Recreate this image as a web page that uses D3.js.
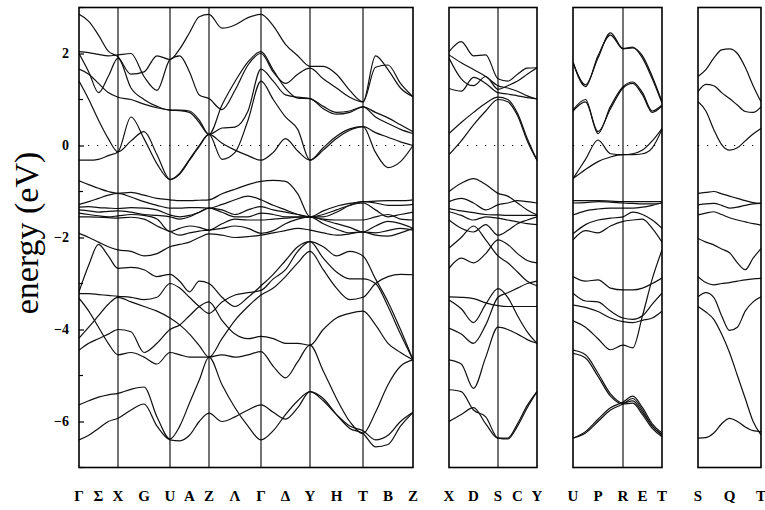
<!DOCTYPE html>
<html><head><meta charset="utf-8">
<script src="https://cdn.jsdelivr.net/npm/d3@7"></script>
<style>body{margin:0;background:#fff}</style>
</head><body>
<script>
// ---------- data ----------
const yTicks = [2, 0, -2, -4, -6];
const minorTicks = [3, 1, -1, -3, -5, -7];

// Panel 1 : Γ Σ X G U A Z Λ Γ Δ Y H T B Z
const p1Nodes = [0, 0.39, 0.91, 1.30, 1.82, 2.31, 2.84, 3.34];
const p1Labels = ["Γ","Σ","X","G","U","A","Z","Λ","Γ","Δ","Y","H","T","B","Z"];
const p1Bands = [
 [2.85,2.70,2.40,2.05,1.93, 1.55,1.60,1.95,1.87, 2.10,2.45,2.80,2.85, 2.55,2.62,2.78,2.85, 2.60,2.20,1.95,1.72, 1.72,1.55,1.20,0.95, 1.95,1.65,1.25,1.06],
 [2.04,2.02,1.98,1.95,1.97, 2.00,1.50,1.20,1.87, 1.95,1.60,1.10,1.02, 0.78,1.20,1.75,2.00, 1.60,1.35,1.55,1.68, 1.45,1.25,1.05,0.95, 1.70,1.75,1.35,1.06],
 [2.00,1.60,1.15,1.50,1.90, 1.25,1.00,0.85,0.77, 0.77,0.75,0.55,0.24, 0.88,1.39,1.82,2.04, 1.64,1.24,1.03,1.02, 0.80,0.68,0.72,0.84, 0.72,0.60,0.45,0.30],
 [1.66,1.55,1.35,1.15,1.05, 1.00,0.90,0.82,0.77, 0.76,0.72,0.50,0.24, 0.38,0.40,0.75,1.66, 1.40,1.10,1.05,1.02, 0.85,0.72,0.75,0.84, 0.62,0.48,0.35,0.26],
 [1.40,1.00,0.55,0.15,-0.14, 0.10,0.30,-0.20,-0.74, -0.62,-0.32,-0.02,0.24, -0.30,-0.15,0.55,1.40, 1.00,0.62,0.35,-0.32, -0.05,0.20,0.36,0.41, 0.28,0.18,0.08,0.00],
 [-0.32,-0.32,-0.30,-0.22,-0.14, 0.62,0.15,-0.40,-0.74, -0.60,-0.30,0.00,0.24, 0.05,-0.10,-0.22,-0.32, -0.15,0.15,-0.12,-0.32, -0.10,0.15,0.33,0.41, -0.15,-0.48,-0.35,0.00],
 [-0.77,-0.85,-0.93,-1.00,-1.04, -1.02,-1.08,-1.15,-1.18, -1.20,-1.20,-1.19,-1.18, -1.05,-0.95,-0.85,-0.78, -0.76,-0.78,-1.05,-1.55, -1.42,-1.32,-1.26,-1.22, -1.21,-1.20,-1.20,-1.18],
 [-1.28,-1.22,-1.15,-1.08,-1.04, -1.12,-1.22,-1.30,-1.36, -1.36,-1.35,-1.35,-1.36, -1.28,-1.18,-1.10,-1.18, -1.30,-1.40,-1.50,-1.55, -1.55,-1.45,-1.30,-1.22, -1.25,-1.30,-1.30,-1.28],
 [-1.34,-1.33,-1.35,-1.36,-1.37, -1.35,-1.36,-1.40,-1.51, -1.55,-1.52,-1.45,-1.36, -1.40,-1.50,-1.40,-1.33, -1.40,-1.45,-1.50,-1.55, -1.50,-1.40,-1.30,-1.25, -1.40,-1.55,-1.50,-1.45],
 [-1.40,-1.42,-1.45,-1.43,-1.42, -1.45,-1.50,-1.52,-1.55, -1.60,-1.55,-1.45,-1.36, -1.45,-1.55,-1.55,-1.47, -1.50,-1.55,-1.55,-1.55, -1.60,-1.62,-1.62,-1.62, -1.55,-1.50,-1.60,-1.62],
 [-1.47,-1.50,-1.53,-1.55,-1.53, -1.50,-1.52,-1.60,-1.87, -1.80,-1.75,-1.78,-1.84, -1.70,-1.60,-1.62,-1.62, -1.60,-1.58,-1.56,-1.55, -1.62,-1.70,-1.78,-1.88, -1.75,-1.65,-1.70,-1.80],
 [-1.55,-1.55,-1.56,-1.57,-1.58, -1.56,-1.60,-1.75,-1.87, -1.95,-1.90,-1.86,-1.84, -1.80,-1.75,-1.80,-1.91, -1.85,-1.70,-1.60,-1.55, -1.70,-1.82,-1.90,-1.88, -1.95,-1.97,-1.90,-1.80],
 [-1.91,-2.00,-2.10,-2.20,-2.27, -2.30,-2.40,-2.35,-2.20, -2.15,-2.10,-2.00,-1.92, -1.95,-2.00,-1.98,-1.95, -1.90,-1.85,-1.80,-1.84, -1.90,-1.95,-1.92,-1.88, -1.90,-1.85,-1.80,-1.84],
 [-3.18,-2.60,-2.15,-2.40,-2.67, -2.65,-2.70,-2.85,-2.80, -2.95,-3.18,-2.95,-3.00, -3.30,-3.50,-3.30,-3.05, -2.80,-2.50,-2.20,-2.09, -2.20,-2.40,-2.30,-2.40, -2.90,-3.40,-4.00,-4.66],
 [-3.22,-3.22,-3.24,-3.26,-3.28, -3.30,-3.35,-3.30,-3.00, -3.10,-3.30,-3.50,-3.65, -3.40,-3.25,-3.20,-3.15, -2.90,-2.70,-2.30,-2.09, -2.45,-2.75,-2.90,-2.90, -3.00,-3.50,-4.10,-4.66],
 [-3.32,-3.60,-3.95,-4.30,-4.55, -4.50,-4.60,-4.75,-4.50, -4.55,-4.60,-4.60,-4.60, -4.55,-4.60,-4.55,-4.48, -4.80,-5.05,-4.70,-4.34, -4.90,-5.50,-6.00,-6.26, -5.80,-5.20,-4.80,-4.66],
 [-4.19,-3.95,-3.70,-3.45,-3.30, -3.40,-3.50,-3.60,-3.75, -3.90,-4.10,-4.35,-4.60, -4.20,-3.80,-3.50,-3.25, -3.10,-2.85,-2.55,-2.30, -2.70,-3.10,-3.35,-3.30, -3.00,-2.85,-2.80,-2.81],
 [-4.45,-4.30,-4.20,-4.10,-4.00, -4.05,-4.50,-4.30,-4.00, -3.90,-3.70,-3.50,-3.40, -3.80,-4.10,-4.20,-4.15, -4.20,-4.30,-4.30,-4.34, -4.00,-3.75,-3.65,-3.60, -3.90,-4.30,-4.50,-4.66],
 [-5.64,-5.55,-5.47,-5.42,-5.39, -5.30,-5.25,-5.90,-6.38, -6.10,-5.60,-5.10,-4.60, -5.20,-5.70,-6.10,-6.40, -6.20,-5.85,-5.55,-5.35, -5.55,-5.85,-6.10,-6.20, -6.40,-6.30,-6.00,-5.80],
 [-6.40,-6.30,-6.15,-6.00,-5.93, -5.75,-5.62,-6.10,-6.40, -6.42,-6.30,-6.00,-5.82, -6.00,-5.90,-5.75,-5.64, -5.80,-5.95,-5.70,-5.35, -5.50,-5.85,-6.15,-6.26, -6.55,-6.50,-6.10,-5.80]
];

// Panel 2 : X D S C Y
const p2Nodes = [0, 0.49, 0.88];
const p2Labels = ["X","D","S","C","Y"];
const p2Bands = [
 [2.04,2.26,1.95,1.97,1.45,1.40,1.55,1.68,1.69],
 [1.97,1.80,1.65,1.50,1.30,1.25,1.18,1.08,1.01],
 [1.90,1.45,1.30,1.50,1.22,1.30,1.40,1.55,1.69],
 [1.24,1.18,1.48,1.35,1.15,1.12,1.08,1.04,1.01],
 [0.26,0.50,0.72,0.92,1.05,1.00,0.70,0.15,-0.32],
 [-0.20,0.10,0.45,0.75,1.00,0.95,0.65,0.10,-0.32],
 [-1.00,-0.82,-0.72,-0.85,-1.04,-1.10,-1.25,-1.40,-1.51],
 [-1.22,-1.15,-1.25,-1.40,-1.29,-1.25,-1.20,-1.22,-1.25],
 [-1.37,-1.42,-1.46,-1.50,-1.51,-1.52,-1.52,-1.52,-1.52],
 [-1.44,-1.52,-1.62,-1.55,-1.58,-1.62,-1.66,-1.70,-1.72],
 [-1.62,-1.80,-1.88,-1.72,-1.95,-1.85,-1.70,-1.62,-1.55],
 [-2.23,-2.00,-1.75,-2.05,-2.40,-2.55,-2.75,-2.95,-3.05],
 [-2.67,-2.45,-2.55,-2.35,-2.05,-2.15,-2.35,-2.50,-2.55],
 [-3.29,-3.30,-3.33,-3.42,-3.48,-3.50,-3.50,-3.50,-3.50],
 [-3.36,-3.55,-3.85,-3.45,-3.11,-3.30,-3.70,-4.05,-4.30],
 [-3.97,-4.10,-4.30,-3.90,-3.30,-3.20,-3.10,-3.00,-2.95],
 [-4.66,-4.75,-5.28,-4.60,-3.95,-4.00,-4.10,-4.22,-4.30],
 [-5.31,-5.35,-5.75,-5.90,-6.36,-6.38,-6.10,-5.70,-5.35],
 [-6.00,-5.85,-5.70,-6.05,-6.36,-6.36,-6.05,-5.65,-5.35]
];

// Panel 3 : U P R E T
const p3Nodes = [0, 0.50, 0.89];
const p3Labels = ["U","P","R","E","T"];
const p3Bands = [
 [1.82,1.28,1.95,2.40,2.10,2.12,1.95,1.50,0.95],
 [1.80,1.32,1.90,2.45,2.11,2.14,1.90,1.45,0.92],
 [0.77,1.00,0.26,0.85,1.28,1.38,1.15,0.75,0.88],
 [0.75,0.95,0.30,0.80,1.25,1.35,1.10,0.72,0.86],
 [-0.72,-0.30,0.12,-0.18,-0.20,-0.18,-0.10,0.10,0.37],
 [-0.72,-0.52,-0.35,-0.25,-0.20,-0.20,-0.18,-0.05,0.35],
 [-1.20,-1.20,-1.20,-1.21,-1.22,-1.22,-1.22,-1.22,-1.22],
 [-1.25,-1.24,-1.22,-1.23,-1.25,-1.26,-1.27,-1.27,-1.25],
 [-1.51,-1.42,-1.38,-1.36,-1.36,-1.36,-1.34,-1.30,-1.25],
 [-1.92,-1.72,-1.62,-1.58,-1.55,-1.45,-1.50,-1.62,-1.80],
 [-2.05,-1.85,-1.90,-1.75,-1.65,-1.62,-1.60,-1.80,-2.10],
 [-2.85,-2.95,-2.92,-3.10,-3.14,-3.14,-3.10,-3.00,-2.88],
 [-3.21,-3.38,-3.40,-3.60,-3.75,-3.78,-3.70,-3.45,-3.21],
 [-3.47,-3.52,-3.61,-3.75,-3.83,-3.85,-3.80,-3.75,-3.60],
 [-3.81,-3.95,-4.20,-4.44,-4.34,-4.40,-3.70,-2.90,-2.27],
 [-4.45,-4.55,-4.95,-5.40,-5.60,-5.55,-5.80,-6.10,-6.30],
 [-4.52,-4.62,-5.02,-5.45,-5.62,-5.60,-5.85,-6.15,-6.33],
 [-6.36,-6.25,-6.00,-5.75,-5.62,-5.50,-5.75,-6.10,-6.28],
 [-6.36,-6.22,-5.95,-5.70,-5.58,-5.45,-5.70,-6.05,-6.25]
];

// Panel 4 : S Q T
const p4Nodes = [0, 0.63];
const p4Labels = ["S","Q","T"];
const p4Bands = [
 [1.50,1.65,1.90,2.08,2.10,2.00,1.70,1.30,0.95],
 [1.17,1.33,1.30,1.15,1.02,0.88,0.74,0.72,0.84],
 [0.95,0.75,0.35,0.02,-0.10,-0.05,0.10,0.25,0.37],
 [-1.04,-1.02,-1.00,-1.05,-1.10,-1.15,-1.20,-1.24,-1.26],
 [-1.29,-1.27,-1.26,-1.30,-1.36,-1.34,-1.30,-1.27,-1.26],
 [-1.51,-1.47,-1.44,-1.50,-1.57,-1.62,-1.66,-1.70,-1.73],
 [-2.02,-2.10,-2.16,-2.25,-2.33,-2.55,-2.70,-2.45,-2.24],
 [-2.85,-2.98,-3.03,-3.00,-2.98,-2.95,-2.92,-2.90,-2.89],
 [-3.29,-3.20,-3.30,-3.70,-4.02,-3.95,-3.60,-3.40,-3.29],
 [-3.50,-3.62,-3.78,-4.10,-4.50,-5.00,-5.50,-6.00,-6.29],
 [-6.36,-6.35,-6.25,-6.05,-5.93,-6.00,-6.12,-6.20,-6.22]
];

// ---------- drawing ----------
const W = 765, H = 510;
const svg = d3.select("body").append("svg").attr("width", W).attr("height", H)
  .style("font-family", "'Liberation Serif','DejaVu Serif',serif");

const y = d3.scaleLinear().domain([-7, 3]).range([467.5, 7.5]);

const panels = [
  {nodes: p1Nodes, labels: p1Labels, bands: p1Bands, x0: 79},
  {nodes: p2Nodes, labels: p2Labels, bands: p2Bands, x0: 449},
  {nodes: p3Nodes, labels: p3Labels, bands: p3Bands, x0: 573},
  {nodes: p4Nodes, labels: p4Labels, bands: p4Bands, x0: 698}
];

// k-sample positions: 4 sub-intervals per segment between high-symmetry points (8 for the single-segment panel)
function kGrid(nodes) {
  const sub = nodes.length === 2 ? 8 : 4;
  const g = [nodes[0]];
  for (let s = 0; s < nodes.length - 1; s++)
    for (let j = 1; j <= sub; j++) g.push(nodes[s] + (nodes[s+1] - nodes[s]) * j / sub);
  return g;
}

panels.forEach((p, pi) => {
  const kmax = p.nodes[p.nodes.length - 1];
  const x = d3.scaleLinear().domain([0, kmax]).range([p.x0, p.x0 + kmax * 100]);
  const g = svg.append("g");
  const clipId = "clip" + pi;
  svg.append("clipPath").attr("id", clipId).append("rect")
    .attr("x", x(0)).attr("y", y(3)).attr("width", x(kmax) - x(0)).attr("height", y(-7) - y(3));

  const ks = kGrid(p.nodes);
  const line = d3.line().x((d, i) => x(ks[i])).y(d => y(d)).curve(d3.curveMonotoneX);

  // zero line
  g.append("line").attr("x1", x(0)).attr("x2", x(kmax)).attr("y1", y(0)).attr("y2", y(0))
    .attr("stroke", "#000").attr("stroke-width", 1.1).attr("stroke-dasharray", "1.2,7.8");

  // bands
  g.append("g").attr("clip-path", `url(#${clipId})`).selectAll("path").data(p.bands).join("path")
    .attr("d", line).attr("fill", "none").attr("stroke", "#111").attr("stroke-width", 1.2);

  // inner high-symmetry lines
  g.selectAll("line.sym").data(p.nodes.slice(1, -1)).join("line").attr("class", "sym")
    .attr("x1", d => x(d)).attr("x2", d => x(d)).attr("y1", y(3)).attr("y2", y(-7))
    .attr("stroke", "#000").attr("stroke-width", 1.1);

  // frame
  g.append("rect").attr("x", x(0)).attr("y", y(3)).attr("width", x(kmax) - x(0)).attr("height", y(-7) - y(3))
    .attr("fill", "none").attr("stroke", "#000").attr("stroke-width", 1.6);

  // labels: node labels at points, segment labels at midpoints
  const labPos = [];
  p.nodes.forEach((n, i) => {
    labPos.push(n);
    if (i < p.nodes.length - 1) labPos.push((n + p.nodes[i+1]) / 2);
  });
  g.selectAll("text.k").data(p.labels).join("text").attr("class", "k")
    .attr("x", (d, i) => x(labPos[i])).attr("y", 501)
    .attr("text-anchor", "middle").attr("font-size", 15).attr("font-weight", "bold")
    .text(d => d);

  if (pi === 0) {
    const ax = d3.axisLeft(y).tickValues(yTicks).tickSize(-5).tickPadding(10);
    const ag = g.append("g").attr("transform", `translate(${x(0)},0)`).call(ax);
    ag.select(".domain").remove();
    ag.selectAll("text").attr("font-size", 14).attr("font-weight", "bold")
      .attr("font-family", "'Liberation Serif',serif").attr("fill", "#000");
    ag.selectAll("line").attr("stroke-width", 1.2);
    g.selectAll("line.minor").data(minorTicks).join("line").attr("class", "minor")
      .attr("x1", x(0)).attr("x2", x(0) + 4).attr("y1", d => y(d)).attr("y2", d => y(d))
      .attr("stroke", "#000").attr("stroke-width", 1.2);
  }
});

svg.append("text")
  .attr("transform", "translate(38,233) rotate(-90)")
  .attr("text-anchor", "middle").attr("font-size", 34)
  .text("energy (eV)");
</script>
</body></html>
